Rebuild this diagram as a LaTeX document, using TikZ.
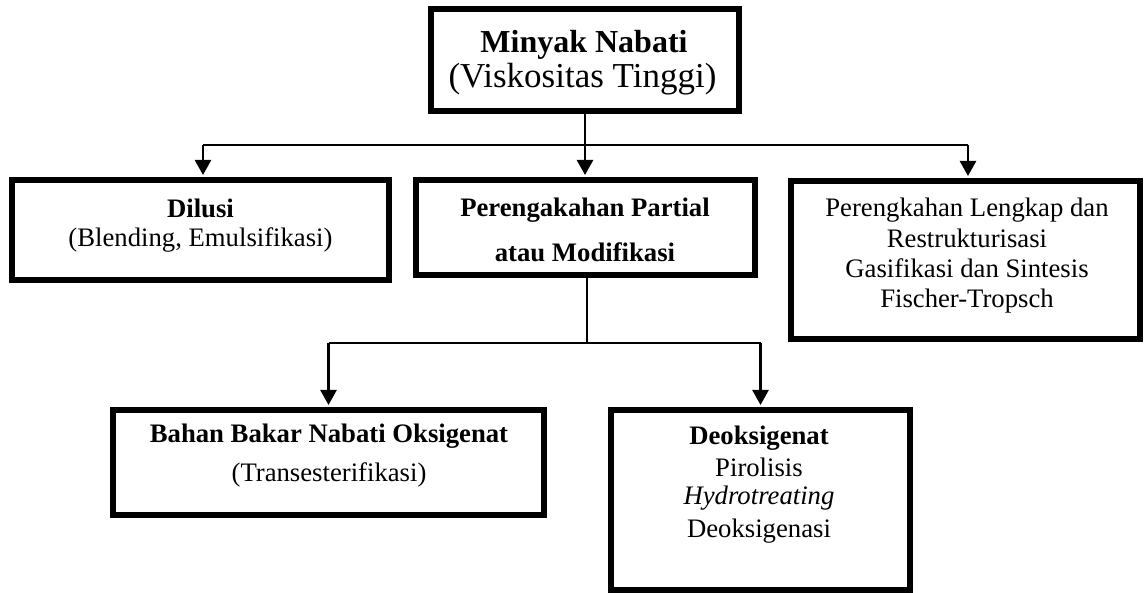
\documentclass[tikz,border=0pt]{standalone}
\usepackage{fontspec}
\setmainfont{Liberation Serif}
\usetikzlibrary{arrows.meta}
\tikzset{
  box/.style={draw=black, line width=6pt, rectangle, inner sep=0pt, fill=white},
  conn/.style={draw=black, line width=2.6pt},
  arr/.style={conn, -{Triangle[length=15pt,width=16pt]}, shorten >=2pt},
  txt/.style={anchor=base, inner sep=0pt, font=\fontsize{26.7}{30}\selectfont},
  btxt/.style={txt, font=\fontsize{26.7}{30}\selectfont\bfseries},
}
\begin{document}
\begin{tikzpicture}[x=1pt,y=-1pt]
\useasboundingbox (0,0) rectangle (1144,593);
% boxes
\node[box, minimum width=308pt, minimum height=102pt] (top) at (585,60) {};
\node[box, minimum width=377pt, minimum height=100pt] (dil) at (200.5,230) {};
\node[box, minimum width=339pt, minimum height=95pt] (per) at (585.5,227.5) {};
\node[box, minimum width=349pt, minimum height=158pt] (full) at (965.5,260) {};
\node[box, minimum width=431pt, minimum height=105pt] (bahan) at (328.5,462.5) {};
\node[box, minimum width=299pt, minimum height=180pt] (deo) at (760.5,500) {};
% texts
\node[btxt, font=\fontsize{32}{35}\selectfont\bfseries] (t1) at (584,53) {Minyak Nabati};
\node[txt, font=\fontsize{35}{38}\selectfont] (t2) at (582.5,88) {(Viskositas Tinggi)};
\node[btxt] (t3) at (200.5,218) {Dilusi};
\node[txt] (t4) at (200.5,247) {(Blending, Emulsifikasi)};
\node[btxt] (t5) at (585,217) {Perengakahan Partial};
\node[btxt] (t6) at (585,262) {atau Modifikasi};
\node[txt] (t7) at (967,217) {Perengkahan Lengkap dan};
\node[txt] (t8) at (967,248) {Restrukturisasi};
\node[txt] (t9) at (967,278) {Gasifikasi dan Sintesis};
\node[txt] (t10) at (967,308) {Fischer-Tropsch};
\node[btxt] (t11) at (329,443) {Bahan Bakar Nabati Oksigenat};
\node[txt] (t12) at (329,482) {(Transesterifikasi)};
\node[btxt] (t13) at (759,445) {Deoksigenat};
\node[txt] (t14) at (759,477) {Pirolisis};
\node[txt, font=\fontsize{26.7}{30}\selectfont\itshape] (t15) at (759,505) {Hydrotreating};
\node[txt] (t16) at (759,537) {Deoksigenasi};
% connectors
\coordinate (j1) at (585,145);
\coordinate (jl) at (203,145);
\coordinate (jr) at (968,145);
\draw[conn] (top.south) -- (j1);
\draw[conn] (jl) -- (jr);
\draw[arr] (jl) -- (jl |- dil.north);
\draw[arr] (j1) -- (j1 |- per.north);
\draw[arr] (jr) -- (jr |- full.north);
\coordinate (j2) at (587,343);
\coordinate (j2l) at (328.5,343);
\coordinate (j2r) at (760.5,343);
\draw[conn] (j2 |- per.south) -- (j2);
\draw[conn] (j2l) -- (j2r);
\draw[arr] (j2l) -- (bahan.north);
\draw[arr] (j2r) -- (deo.north);
\end{tikzpicture}
\end{document}
